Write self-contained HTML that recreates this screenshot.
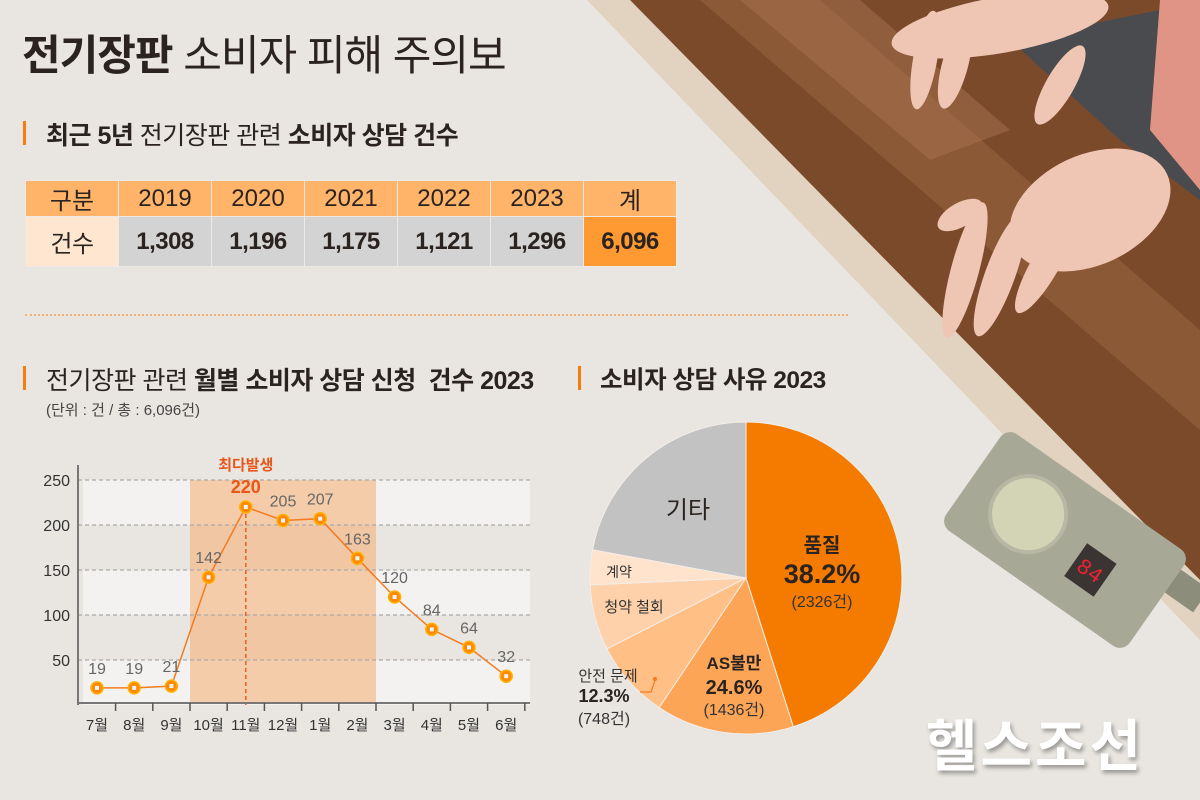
<!DOCTYPE html>
<html lang="ko"><head><meta charset="utf-8">
<style>
body{margin:0;width:1200px;height:800px;overflow:hidden;background:#e9e6e1;font-family:"Liberation Sans","Noto Sans CJK KR",sans-serif;color:#2a2320;position:relative}
.abs{position:absolute}
.bar{position:absolute;width:3px;height:24px;background:#f57d10}
table{position:absolute;left:25px;top:180px;border-collapse:collapse;font-size:24px}
td{border:1px solid #eee9e4;text-align:center;padding:0;width:92px}
tr.h td{background:#ffb469;height:35px}
tr.b td{background:#d3d3d3;height:49px;font-weight:bold;letter-spacing:-0.5px}
</style></head><body>
<svg class="abs" style="left:0;top:0" width="1200" height="800">
  <polygon points="587,0 630,0 1200,580 1200,640" fill="#e2d3c0"/>
  <polygon points="630,0 1200,0 1200,580" fill="#7b4a2b"/>
  <polygon points="700,0 820,0 1200,330 1200,430" fill="#93603b" opacity="0.7"/>
  <polygon points="740,0 860,0 1010,130 930,160" fill="#a77250" opacity="0.5"/>
  <polygon points="1010,40 1160,10 1200,130 1200,200 1120,140" fill="#4a4b4e"/>
  <polygon points="1160,0 1200,0 1200,190 1150,130" fill="#df9485"/>
  <g fill="#efc6b4">
    <ellipse cx="1000" cy="25" rx="110" ry="28" transform="rotate(-10 1000 25)"/>
    <ellipse cx="925" cy="60" rx="12" ry="50" transform="rotate(10 925 60)"/>
    <ellipse cx="955" cy="65" rx="13" ry="45" transform="rotate(15 955 65)"/>
    <ellipse cx="1060" cy="85" rx="14" ry="45" transform="rotate(30 1060 85)"/>
    <ellipse cx="1090" cy="210" rx="85" ry="55" transform="rotate(-25 1090 210)"/>
    <ellipse cx="965" cy="270" rx="14" ry="70" transform="rotate(15 965 270)"/>
    <ellipse cx="1000" cy="275" rx="15" ry="65" transform="rotate(20 1000 275)"/>
    <ellipse cx="1045" cy="265" rx="14" ry="55" transform="rotate(30 1045 265)"/>
    <ellipse cx="960" cy="215" rx="25" ry="12" transform="rotate(-30 960 215)"/>
  </g>
  <rect x="1160" y="555" width="60" height="28" fill="#8d8d7c" transform="rotate(35 1160 555)"/>
  <g transform="translate(1065,540) rotate(35)">
    <rect x="-112" y="-59" width="224" height="118" rx="12" fill="#a8a897"/>
    <circle cx="-45" cy="0" r="38" fill="#d3d4b6" stroke="#b7b7a3" stroke-width="4"/>
    <rect x="20" y="-10" width="36" height="40" fill="#3a3433"/>
    <text x="38" y="18" text-anchor="middle" fill="#e23" font-size="22" font-family="Liberation Mono,monospace">84</text>
  </g>
</svg>

<div class="abs" style="left:22px;top:22px;font-size:42px;letter-spacing:-1px"><b>전기장판</b> 소비자 피해 주의보</div>

<div class="bar" style="left:23px;top:121px"></div>
<div class="abs" style="left:46px;top:116px;font-size:25px;letter-spacing:-0.5px"><b>최근 5년</b> 전기장판 관련 <b>소비자 상담 건수</b></div>

<table>
<tr class="h"><td>구분</td><td>2019</td><td>2020</td><td>2021</td><td>2022</td><td>2023</td><td>계</td></tr>
<tr class="b"><td style="background:#ffe6d0;font-weight:normal">건수</td><td>1,308</td><td>1,196</td><td>1,175</td><td>1,121</td><td>1,296</td><td style="background:#ff9a33">6,096</td></tr>
</table>

<div class="abs" style="left:25px;top:314px;width:823px;border-top:2px dotted #f5b070"></div>

<div class="bar" style="left:23px;top:366px"></div>
<div class="abs" style="left:46px;top:361px;font-size:25px;letter-spacing:-0.5px">전기장판 관련 <b>월별 소비자 상담 신청&nbsp; 건수 2023</b></div>
<div class="abs" style="left:46px;top:399px;font-size:15px;color:#444">(단위 : 건 / 총 : 6,096건)</div>

<div class="bar" style="left:578px;top:366px"></div>
<div class="abs" style="left:600px;top:361px;font-size:24.5px;font-weight:bold;letter-spacing:-0.5px">소비자 상담 사유 2023</div>

<svg id="line" class="abs" style="left:0;top:0" width="560" height="800"></svg>
<svg id="pie" class="abs" style="left:0;top:0" width="1200" height="800"></svg>

<div class="abs" style="left:926px;top:702px;font-size:56px;font-weight:bold;color:#fff;text-shadow:2px 3px 4px rgba(0,0,0,0.35);letter-spacing:3px">헬스조선</div>

<script>
const months=["7월","8월","9월","10월","11월","12월","1월","2월","3월","4월","5월","6월"];
const counts=[19,19,21,142,220,205,207,163,120,84,64,32];
const yTicks=[50,100,150,200,250];
const peakIndex=4;
const highlightStart=3, highlightEnd=7;

const pieLabels=["품질","AS불만","안전 문제","청약 철회","계약","기타"];
const pieValues=[45.1,14.3,8.1,6.8,3.6,22.1];
const pieColors=["#f47b00","#fda556","#ffbf85","#ffd1aa","#ffe3cc","#c2c2c2"];

const NS="http://www.w3.org/2000/svg";
function mk(p,t,a){const e=document.createElementNS(NS,t);for(const k in a)e.setAttribute(k,a[k]);p.appendChild(e);return e;}

const L=document.getElementById('line');
const x0=78,x1=530,y0=705,yTop=480,step=37.2,xStart=97;
const xs=i=>xStart+i*step;
const ys=v=>y0-(v/250)*(y0-yTop);
for(let k=0;k<5;k++){const r=mk(L,'rect',{x:83,y:ys(250-k*50),width:x1-83,height:ys(0)-ys(50),fill:k%2==0?'#f3f2f0':'#e9e6e1'});
}
const hl=mk(L,'rect',{x:xs(highlightStart)-step/2,y:yTop,width:(highlightEnd-highlightStart+1)*step,height:y0-2-yTop,fill:'#f6b27a',opacity:0.6});

yTicks.forEach(v=>{const g=mk(L,'line',{x1:x0,x2:x1,y1:ys(v),y2:ys(v),stroke:'#aaa','stroke-dasharray':'4 3','stroke-width':1.2});

const t=mk(L,'text',{x:70,y:ys(v)+6,'text-anchor':'end','font-size':16,fill:'#333'});t.textContent=v;
});
const pk=mk(L,'line',{x1:xs(peakIndex),x2:xs(peakIndex),y1:ys(counts[peakIndex]),y2:y0,stroke:'#f05a28','stroke-dasharray':'4 3','stroke-width':1.5});

mk(L,'line',{x1:x0,x2:x0,y1:465,y2:y0,stroke:'#777','stroke-width':2});
mk(L,'line',{x1:x0,x2:x1,y1:y0-2,y2:y0-2,stroke:'#777','stroke-width':2});
months.forEach((m,i)=>{const tk=mk(L,'line',{x1:xs(i)+step/2,x2:xs(i)+step/2,y1:y0-2,y2:y0+6,stroke:'#555','stroke-width':1.5});

const t=mk(L,'text',{x:xs(i),y:730,'text-anchor':'middle','font-size':15,fill:'#333'});t.textContent=m;
});
const path=mk(L,'polyline',{points:counts.map((v,i)=>xs(i)+','+ys(v)).join(' '),fill:'none',stroke:'#f47b20','stroke-width':1.5});

counts.forEach((v,i)=>{const c=mk(L,'circle',{cx:xs(i),cy:ys(v),r:6,fill:'#ff8a00',stroke:'#ffb000','stroke-width':1.5});

mk(L,'rect',{x:xs(i)-2,y:ys(v)-2,width:4,height:4,fill:'#e8f4ff'});
const t=mk(L,'text',{x:xs(i),y:ys(v)-14,'text-anchor':'middle','font-size':i==peakIndex?18:16,fill:i==peakIndex?'#e8561a':'#666','font-weight':i==peakIndex?'bold':'normal'});t.textContent=v;
});
const pt=mk(L,'text',{x:xs(peakIndex),y:ys(counts[peakIndex])-37,'text-anchor':'middle','font-size':15,fill:'#e8561a','font-weight':'bold'});pt.textContent='최다발생';


const P=document.getElementById('pie');
const cx=746,cy=578,R=156;
const tot=pieValues.reduce((a,b)=>a+b,0);
let acc=0;
pieValues.forEach((v,i)=>{const a0=acc/tot*2*Math.PI;acc+=v;const a1=acc/tot*2*Math.PI;
const p=(a)=>[cx+R*Math.sin(a),cy-R*Math.cos(a)];const [sx,sy]=p(a0),[ex,ey]=p(a1);
const s=mk(P,'path',{d:`M${cx},${cy} L${sx},${sy} A${R},${R} 0 ${a1-a0>Math.PI?1:0} 1 ${ex},${ey} Z`,fill:pieColors[i],stroke:'#f2ede8','stroke-width':1});
});
function tx(x,y,s,fs,w,col,name){const t=mk(P,'text',{x:x,y:y,'text-anchor':'middle','font-size':fs,'font-weight':w||'normal',fill:col||'#333'});t.textContent=s;
}
tx(822,552,'품질',20,'bold','#2a2320','pie-label');
tx(822,583,'38.2%',27,'bold','#2a2320','pie-percent');
tx(822,607,'(2326건)',16,'normal','#333','pie-count');
tx(688,518,'기타',24,'normal','#2a2320','pie-label');
tx(619,577,'계약',14,'normal','#333','pie-label');
tx(634,612,'청약 철회',15,'normal','#333','pie-label');
tx(734,669,'AS불만',17,'bold','#2a2320','pie-label');
tx(734,694,'24.6%',20,'bold','#2a2320','pie-percent');
tx(734,715,'(1436건)',16,'normal','#333','pie-count');
tx(608,681,'안전 문제',15,'normal','#333','pie-label');
tx(604,702,'12.3%',18,'bold','#2a2320','pie-percent');
tx(604,724,'(748건)',16,'normal','#333','pie-count');
const ld=mk(P,'polyline',{points:'640,692 651,692 655,680',fill:'none',stroke:'#f47b20','stroke-width':1.2});

mk(P,'circle',{cx:655,cy:679,r:2,fill:'#f47b20'});
</script>
</body></html>
